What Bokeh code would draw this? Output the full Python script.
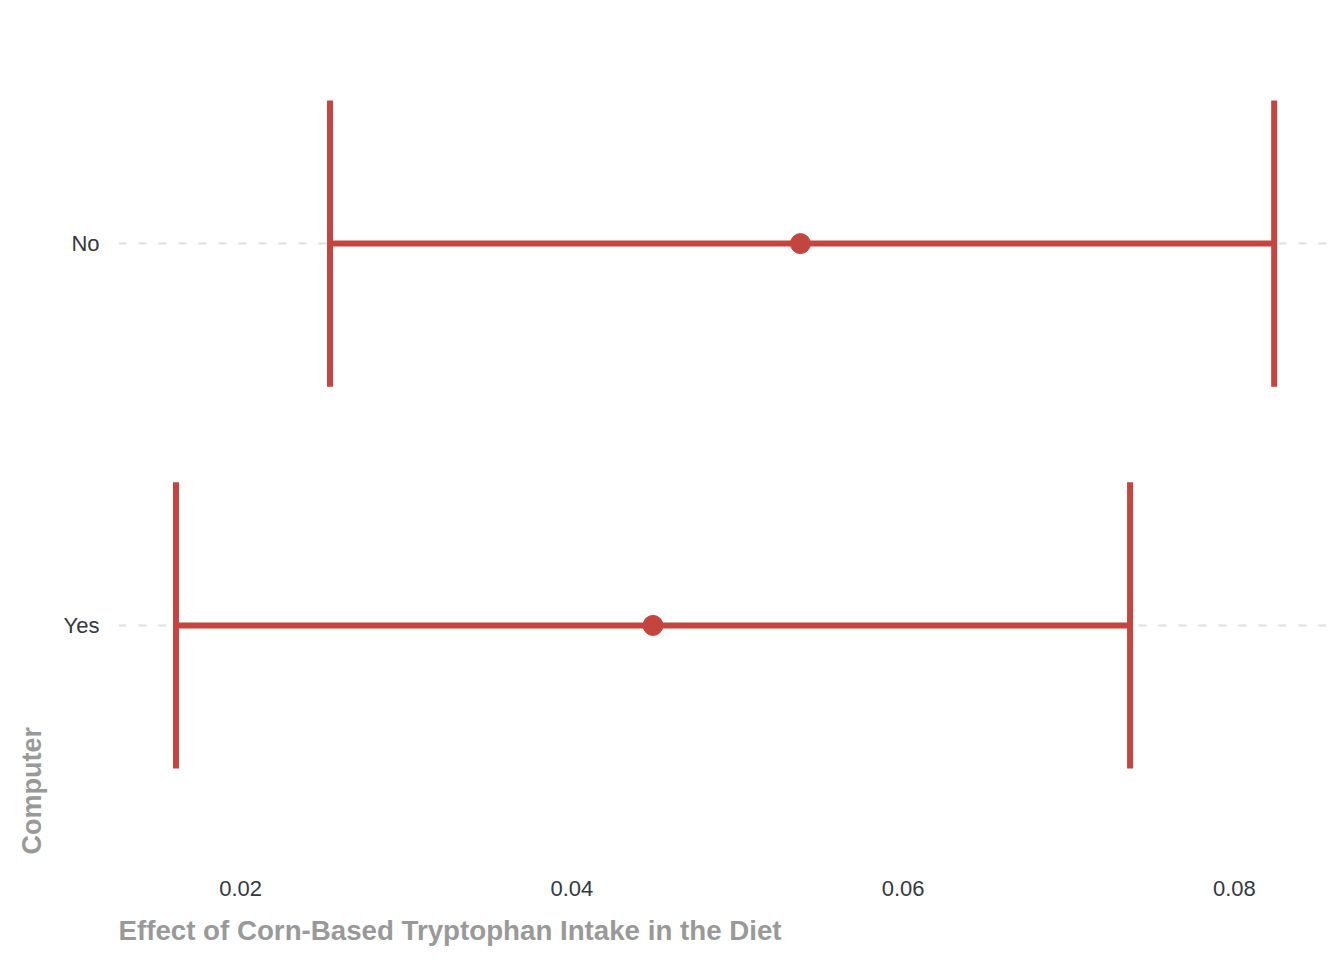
from bokeh.plotting import figure
from bokeh.models import Range1d, FixedTicker, PrintfTickFormatter, Title
from bokeh.embed import file_html
from bokeh.resources import INLINE

# Estimated effect of tryptophan intake, split by computer use
groups = ["Yes", "No"]
estimate = [0.0449, 0.0538]
ci_low = [0.0161, 0.0254]
ci_high = [0.0737, 0.0824]
x_ticks = [0.02, 0.04, 0.06, 0.08]

RED = "#C4443F"
FONT = "Liberation Sans"

ypos = [i + 1 for i in range(len(groups))]
cap = 0.375

p = figure(width=1344, height=960, output_backend="svg", toolbar_location=None,
           x_range=Range1d(0.01263, 0.0858), y_range=Range1d(0.4, 2.6),
           min_border_left=118, min_border_right=14, min_border_top=14,
           min_border_bottom=106)
p.outline_line_color = None
p.background_fill_color = "white"

# axes
p.xaxis.ticker = FixedTicker(ticks=x_ticks)
p.xaxis.formatter = PrintfTickFormatter(format="%.2f")
p.yaxis.ticker = FixedTicker(ticks=ypos)
p.yaxis.major_label_overrides = {y: g for y, g in zip(ypos, groups)}
for ax in (p.xaxis, p.yaxis):
    ax.axis_line_color = None
    ax.major_tick_line_color = None
    ax.minor_tick_line_color = None
    ax.major_label_text_font = FONT
    ax.major_label_text_font_size = "22px"
    ax.major_label_text_color = "#333842"
p.xaxis.major_label_standoff = 20
p.yaxis.major_label_standoff = 13

# grid: dashed horizontal lines only
p.xgrid.grid_line_color = None
p.ygrid.grid_line_color = "#E0E0E0"
p.ygrid.grid_line_width = 2
p.ygrid.grid_line_dash = "8 12"

# confidence intervals with end caps
p.segment(x0=ci_low, y0=ypos, x1=ci_high, y1=ypos, line_color=RED, line_width=6)
p.segment(x0=ci_low, y0=[y - cap for y in ypos], x1=ci_low, y1=[y + cap for y in ypos],
          line_color=RED, line_width=6)
p.segment(x0=ci_high, y0=[y - cap for y in ypos], x1=ci_high, y1=[y + cap for y in ypos],
          line_color=RED, line_width=6)
p.scatter(x=estimate, y=ypos, size=20, fill_color=RED, line_color=RED)

# axis titles, left aligned to the panel
xt = Title(text="Effect of Corn-Based Tryptophan Intake in the Diet", align="left",
           text_font=FONT, text_font_size="27.7px", text_font_style="bold",
           text_color="#999999", standoff=28)
p.add_layout(xt, "below")
yt = Title(text="Computer", align="left", text_font=FONT, text_font_size="27px",
           text_font_style="bold", text_color="#999999", standoff=28)
p.add_layout(yt, "left")

open("out.html", "w").write(file_html(p, INLINE))
